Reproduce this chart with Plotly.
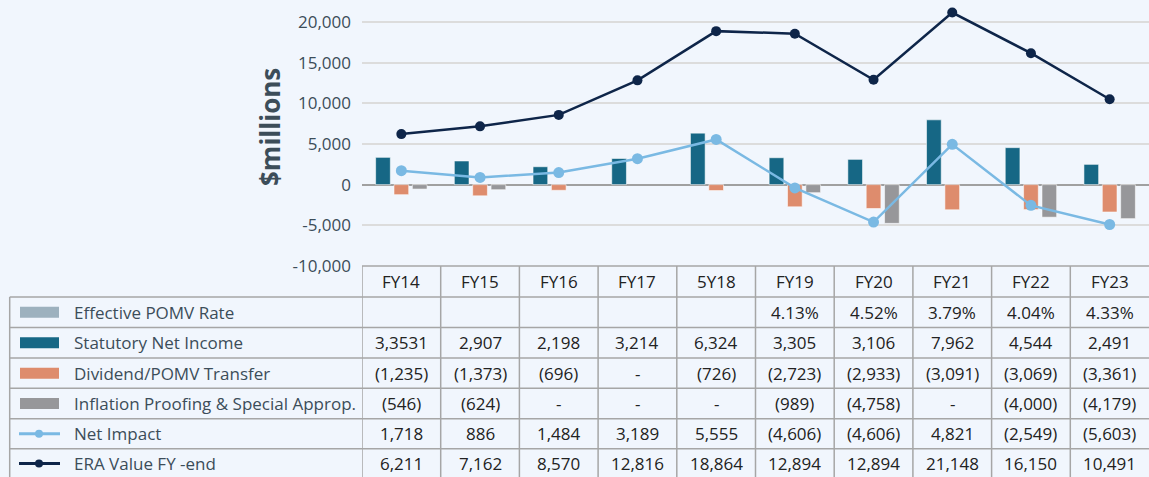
import plotly.graph_objects as go

# ---------------- data ----------------
categories = ["FY14", "FY15", "FY16", "FY17", "5Y18", "FY19", "FY20", "FY21", "FY22", "FY23"]

statutory_net_income = [3353, 2907, 2198, 3214, 6324, 3305, 3106, 7962, 4544, 2491]
dividend_pomv_transfer = [-1235, -1373, -696, None, -726, -2723, -2933, -3091, -3069, -3361]
inflation_proofing = [-546, -624, None, None, None, -989, -4758, None, -4000, -4179]
net_impact_plotted = [1718, 886, 1484, 3189, 5555, -400, -4606, 4950, -2549, -4900]
era_value_plotted = [6211, 7162, 8570, 12816, 18864, 18550, 12894, 21148, 16150, 10491]

# table text (as printed in the source)
row_labels = ["Effective POMV Rate", "Statutory Net Income", "Dividend/POMV Transfer",
              "Inflation Proofing & Special Approp.", "Net Impact", "ERA Value FY -end"]
tbl_pomv = ["", "", "", "", "", "4.13%", "4.52%", "3.79%", "4.04%", "4.33%"]
tbl_stat = ["3,3531", "2,907", "2,198", "3,214", "6,324", "3,305", "3,106", "7,962", "4,544", "2,491"]
tbl_div = ["(1,235)", "(1,373)", "(696)", "-", "(726)", "(2,723)", "(2,933)", "(3,091)", "(3,069)", "(3,361)"]
tbl_infl = ["(546)", "(624)", "-", "-", "-", "(989)", "(4,758)", "-", "(4,000)", "(4,179)"]
tbl_net = ["1,718", "886", "1,484", "3,189", "5,555", "(4,606)", "(4,606)", "4,821", "(2,549)", "(5,603)"]
tbl_era = ["6,211", "7,162", "8,570", "12,816", "18,864", "12,894", "12,894", "21,148", "16,150", "10,491"]

y_ticks = [-10000, -5000, 0, 5000, 10000, 15000, 20000]
y_tick_text = [f"{v:,}" for v in y_ticks]

# ---------------- styling ----------------
W, H = 1149, 477
BG = "#f1f6fd"
C_POMV = "#9db1be"
C_STAT = "#166785"
C_DIV = "#de8c6d"
C_INFL = "#97979a"
C_NET = "#7ab9e3"
C_ERA = "#0e2549"
TXT = "#3c4d59"
CELL = "#222222"
GRID_TBL = "#a6a6a6"
FONT = "Open Sans"

plot_left_px = 362
plot_bottom_px = 266


def py(p):
    return 1 - p / H


def px(p):
    return p / W


fig = go.Figure()

bar_line = dict(width=1, color="rgba(255,255,255,0.55)")
fig.add_trace(go.Bar(x=categories, y=statutory_net_income, name=row_labels[1],
                     marker=dict(color=C_STAT, line=bar_line)))
fig.add_trace(go.Bar(x=categories, y=dividend_pomv_transfer, name=row_labels[2],
                     marker=dict(color=C_DIV, line=bar_line)))
fig.add_trace(go.Bar(x=categories, y=inflation_proofing, name=row_labels[3],
                     marker=dict(color=C_INFL, line=bar_line)))
fig.add_trace(go.Scatter(x=categories, y=net_impact_plotted, name=row_labels[4],
                         mode="lines+markers", line=dict(color=C_NET, width=2.5),
                         marker=dict(color=C_NET, size=11)))
fig.add_trace(go.Scatter(x=categories, y=era_value_plotted, name=row_labels[5],
                         mode="lines+markers", line=dict(color=C_ERA, width=2.5),
                         marker=dict(color=C_ERA, size=10)))

shapes = []
annotations = []

annotations.append(dict(text="<b>$millions</b>", x=px(270), y=py(127), xref="paper", yref="paper",
                        showarrow=False, textangle=-90, font=dict(family=FONT, size=26, color=TXT),
                        xanchor="center", yanchor="middle"))

# ---------------- table ----------------
row_edges = [297, 327.5, 358, 388.3, 418.7, 448.7, 479]
header_top = 266
tbl_left = 9.7
lw = 1.5

shapes.append(dict(type="line", xref="paper", yref="paper", x0=px(plot_left_px), x1=1,
                   y0=py(header_top), y1=py(header_top), line=dict(color=GRID_TBL, width=lw)))
for e in row_edges[:-1]:
    shapes.append(dict(type="line", xref="paper", yref="paper", x0=px(tbl_left), x1=1,
                       y0=py(e), y1=py(e), line=dict(color=GRID_TBL, width=lw)))
shapes.append(dict(type="line", xref="paper", yref="paper", x0=px(tbl_left), x1=px(tbl_left),
                   y0=py(row_edges[0]), y1=0, line=dict(color=GRID_TBL, width=lw)))
for i in range(len(categories)):
    shapes.append(dict(type="line", xref="x", yref="paper", x0=i - 0.5, x1=i - 0.5,
                       y0=py(header_top), y1=0, line=dict(color=GRID_TBL, width=lw)))

hdr_c = (header_top + row_edges[0]) / 2
for c in categories:
    annotations.append(dict(text=c, x=c, y=py(hdr_c), xref="x", yref="paper", showarrow=False,
                            font=dict(family=FONT, size=17, color=CELL),
                            xanchor="center", yanchor="middle"))

table_rows = [tbl_pomv, tbl_stat, tbl_div, tbl_infl, tbl_net, tbl_era]
row_centers = []
for r in range(6):
    yc = (row_edges[r] + row_edges[r + 1]) / 2
    if r == 5:
        yc = 463.5
    row_centers.append(yc)

for r, (label, vals) in enumerate(zip(row_labels, table_rows)):
    yc = row_centers[r]
    annotations.append(dict(text=label, x=px(72), y=py(yc), xref="paper", yref="paper",
                            showarrow=False, font=dict(family=FONT, size=17, color=TXT, weight=500),
                            xanchor="left", yanchor="middle"))
    for c, v in zip(categories, vals):
        if v:
            annotations.append(dict(text=v, x=c, y=py(yc), xref="x", yref="paper", showarrow=False,
                                    font=dict(family=FONT, size=17, color=CELL),
                                    xanchor="center", yanchor="middle"))

sw_colors = [C_POMV, C_STAT, C_DIV, C_INFL]
for r, col in enumerate(sw_colors):
    yc = row_centers[r]
    shapes.append(dict(type="rect", xref="paper", yref="paper", x0=px(20), x1=px(59),
                       y0=py(yc - 5.5), y1=py(yc + 5.5), fillcolor=col, line=dict(width=0)))
for r, col in [(4, C_NET), (5, C_ERA)]:
    yc = row_centers[r]
    shapes.append(dict(type="line", xref="paper", yref="paper", x0=px(19), x1=px(60),
                       y0=py(yc), y1=py(yc), line=dict(color=col, width=3)))
    shapes.append(dict(type="circle", xref="paper", yref="paper", x0=px(35), x1=px(43),
                       y0=py(yc + 4), y1=py(yc - 4), fillcolor=col, line=dict(width=0)))

fig.update_layout(
    width=W, height=H, autosize=False,
    margin=dict(l=0, r=0, t=0, b=0, autoexpand=False),
    paper_bgcolor=BG, plot_bgcolor=BG,
    showlegend=False,
    barmode="group", bargap=0.3, bargroupgap=0.2,
    font=dict(family=FONT, color=TXT),
    xaxis=dict(domain=[px(plot_left_px), 1], range=[-0.5, len(categories) - 0.5],
               showticklabels=False, showgrid=False, zeroline=False, showline=False,
               categoryorder="array", categoryarray=categories),
    yaxis=dict(domain=[py(plot_bottom_px), 1], range=[-10000, 22690],
               tickvals=y_ticks, ticktext=y_tick_text, showgrid=True, gridcolor="#dcdcdc", gridwidth=1.5,
               zeroline=True, zerolinecolor="#a0a0a0", zerolinewidth=1.5,
               tickfont=dict(family=FONT, size=17, color=TXT, weight=500), ticks="", ticklabelstandoff=10),
    shapes=shapes,
    annotations=annotations,
)

page_fix = (
    "var s=document.documentElement.style;s.height='477px';s.overflow='hidden';"
    "var b=document.body.style;b.margin='0';b.padding='0';b.height='477px';b.overflow='hidden';"
    "b.background='" + BG + "';"
)

fig.write_html("out.html",
               config={"displayModeBar": False, "responsive": False},
               post_script=page_fix)
